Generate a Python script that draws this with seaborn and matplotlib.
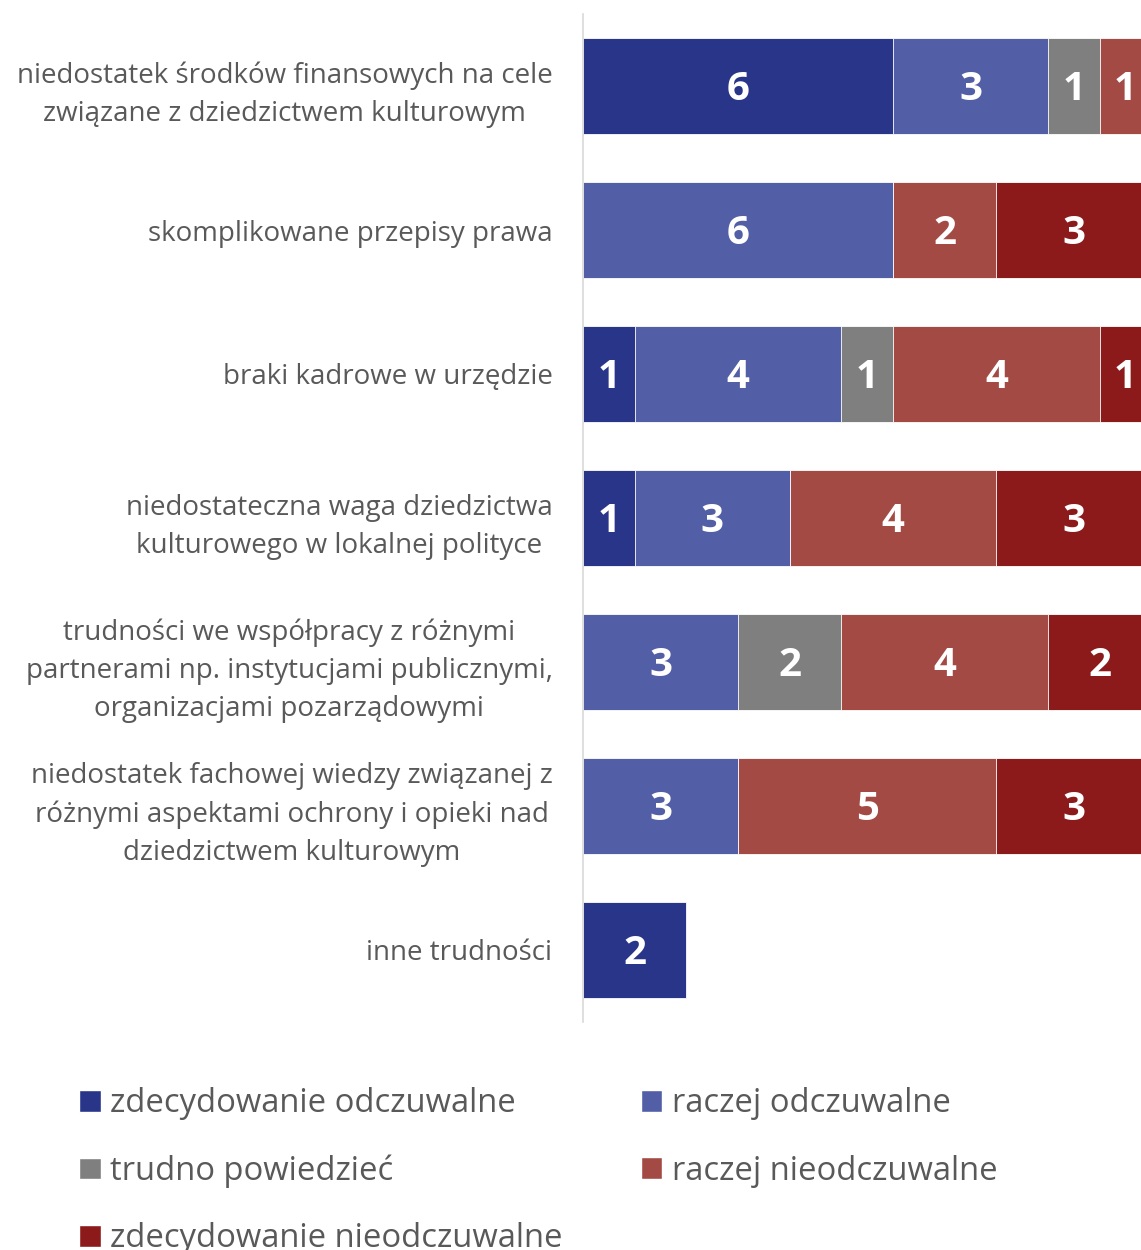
import numpy as np
import pandas as pd
import matplotlib
matplotlib.use("Agg")
import matplotlib.pyplot as plt
import seaborn as sns
from matplotlib.patches import Patch

# dane
kategorie = [
    "niedostatek środków finansowych na cele\nzwiązane z dziedzictwem kulturowym",
    "skomplikowane przepisy prawa",
    "braki kadrowe w urzędzie",
    "niedostateczna waga dziedzictwa\nkulturowego w lokalnej polityce",
    "trudności we współpracy z różnymi\npartnerami np. instytucjami publicznymi,\norganizacjami pozarządowymi",
    "niedostatek fachowej wiedzy związanej z\nróżnymi aspektami ochrony i opieki nad\ndziedzictwem kulturowym",
    "inne trudności",
]
serie = ["zdecydowanie odczuwalne", "raczej odczuwalne", "trudno powiedzieć",
         "raczej nieodczuwalne", "zdecydowanie nieodczuwalne"]
zdec_odcz = [6, 0, 1, 1, 0, 0, 2]
raczej_odcz = [3, 6, 4, 3, 3, 3, 0]
trudno = [1, 0, 1, 0, 2, 0, 0]
raczej_nieodcz = [1, 2, 4, 4, 4, 5, 0]
zdec_nieodcz = [0, 3, 1, 3, 2, 3, 0]
kolory = ["#283589", "#525EA5", "#7F7F7F", "#A34A44", "#8C1A1A"]

wartosci = np.array([zdec_odcz, raczej_odcz, trudno, raczej_nieodcz, zdec_nieodcz])
skumulowane = wartosci.cumsum(axis=0)

sns.set_style("white")
plt.rcParams["font.family"] = ["Open Sans", "DejaVu Sans"]

fig = plt.figure(figsize=(11.41, 12.5), dpi=100)
ax = fig.add_axes([583 / 1141, 1 - 1022 / 1250, 1 - 583 / 1141, (1022 - 14) / 1250])

# słupki skumulowane - rysowane od końca, każdy przykrywa poprzedni
for k in range(len(serie) - 1, -1, -1):
    df = pd.DataFrame({"kategoria": kategorie, "suma": skumulowane[k]})
    sns.barplot(data=df, x="suma", y="kategoria", order=kategorie, orient="h",
                color=kolory[k], saturation=1, width=0.667,
                edgecolor="white", linewidth=0.6, ax=ax)

# etykiety wartości
rozm = 29
for k in range(len(serie)):
    for i in range(len(kategorie)):
        v = wartosci[k, i]
        if v > 0:
            lewy = skumulowane[k, i] - v
            ax.annotate(str(v), (lewy + v / 2, i), xytext=(0, -0.36 * rozm),
                        textcoords="offset points", ha="center", va="baseline",
                        color="white", fontsize=rozm, fontweight="bold")

ax.set_xlim(0, 10.8)
ax.set_ylim(6.5, -0.5)
ax.set_xlabel("")
ax.set_ylabel("")
ax.set_xticks([])
ax.tick_params(axis="y", length=0, pad=22, labelsize=20, labelcolor="#595959")
for lab in ax.get_yticklabels():
    lab.set_multialignment("center")
    lab.set_linespacing(1.49)
for s in ["top", "right", "bottom"]:
    ax.spines[s].set_visible(False)
ax.spines["left"].set_color("#D9D9D9")
ax.spines["left"].set_linewidth(1.2)

# legenda
kolejnosc = [0, 2, 4, 1, 3]
uchwyty = [Patch(facecolor=kolory[j], label=serie[j]) for j in kolejnosc]
leg = fig.legend(handles=uchwyty, loc="upper left", bbox_to_anchor=(0.058, 0.1408),
                 ncol=2, frameon=False, fontsize=23.6, labelcolor="#595959",
                 handlelength=0.65, handleheight=0.65, handletextpad=0.3,
                 columnspacing=2.38, labelspacing=1.05, borderaxespad=0)

fig.savefig("out.png", dpi=100)
